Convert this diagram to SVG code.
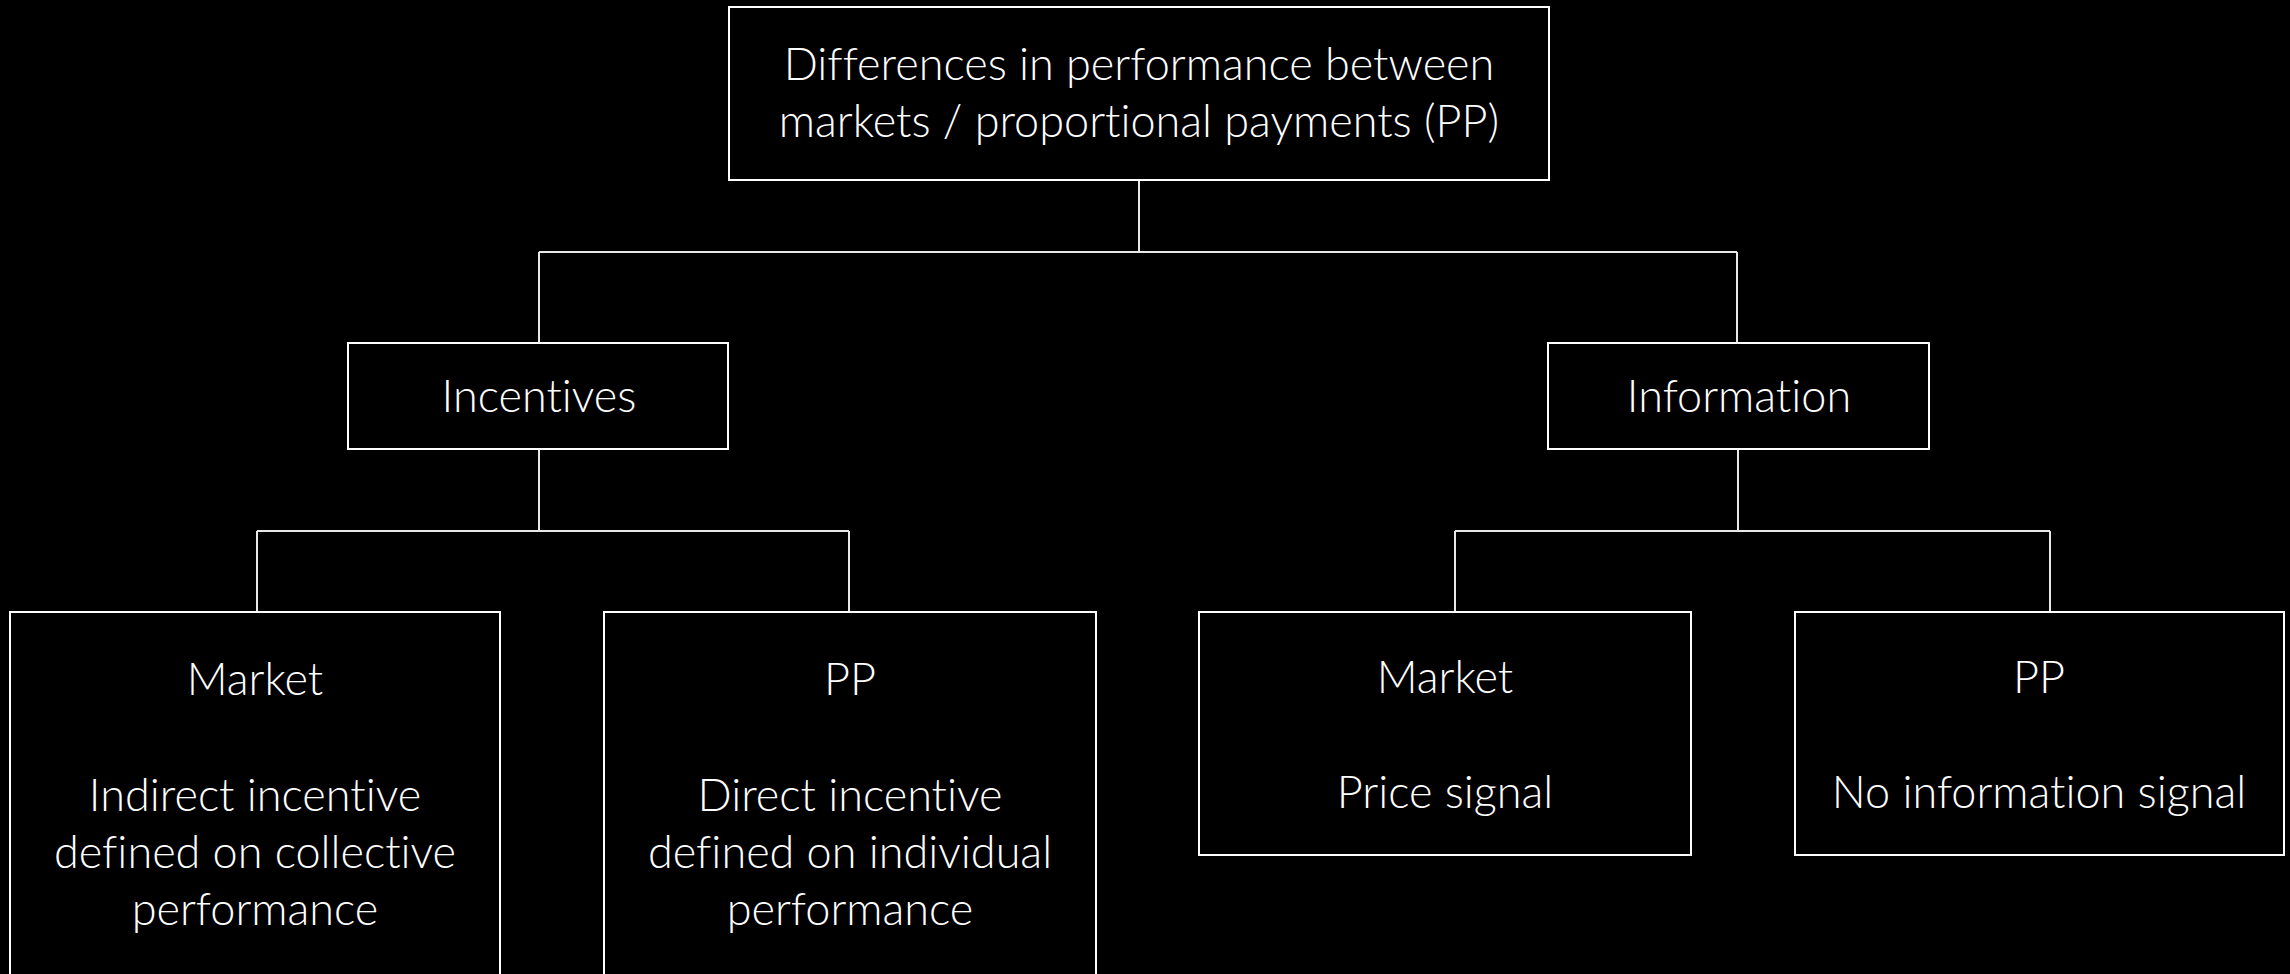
<svg xmlns="http://www.w3.org/2000/svg" width="2290" height="974" viewBox="0 0 2290 974">
<style>
.box{fill:#000;stroke:#fff;stroke-width:2}
.conn{fill:none;stroke:#e8e8e8;stroke-width:2}
text{font-family:Lato,"Open Sans","Liberation Sans",sans-serif;font-weight:300;font-size:45px;fill:#fff;text-anchor:middle;font-variant-ligatures:none;font-feature-settings:"liga" 0,"dlig" 0}
</style>
<rect width="2290" height="974" fill="#000"/>
<g id="connectors">
<path class="conn" d="M1139,180 V252 M539,252 H1737 M539,252 V343 M1737,252 V343"/>
<path class="conn" d="M539,449 V531 M257,531 H849 M257,531 V612 M849,531 V612"/>
<path class="conn" d="M1738,449 V531 M1455,531 H2050 M1455,531 V612 M2050,531 V612"/>
</g>
<g id="root">
<rect class="box" x="729" y="7" width="820" height="173"/>
<text x="1139" y="80">Differences in performance between</text>
<text x="1139" y="137">markets / proportional payments (PP)</text>
</g>
<g id="incentives">
<rect class="box" x="348" y="343" width="380" height="106"/>
<text x="539" y="412">Incentives</text>
</g>
<g id="information">
<rect class="box" x="1548" y="343" width="381" height="106"/>
<text x="1739" y="412">Information</text>
</g>
<g id="inc-market">
<rect class="box" x="10" y="612" width="490" height="400"/>
<text x="255" y="695">Market</text>
<text x="255" y="811">Indirect incentive</text>
<text x="255" y="868">defined on collective</text>
<text x="255" y="925">performance</text>
</g>
<g id="inc-pp">
<rect class="box" x="604" y="612" width="492" height="400"/>
<text x="850" y="695">PP</text>
<text x="850" y="811">Direct incentive</text>
<text x="850" y="868">defined on individual</text>
<text x="850" y="925">performance</text>
</g>
<g id="info-market">
<rect class="box" x="1199" y="612" width="492" height="243"/>
<text x="1445" y="693">Market</text>
<text x="1445" y="808">Price signal</text>
</g>
<g id="info-pp">
<rect class="box" x="1795" y="612" width="489" height="243"/>
<text x="2039" y="693">PP</text>
<text x="2039" y="808">No information signal</text>
</g>
</svg>
